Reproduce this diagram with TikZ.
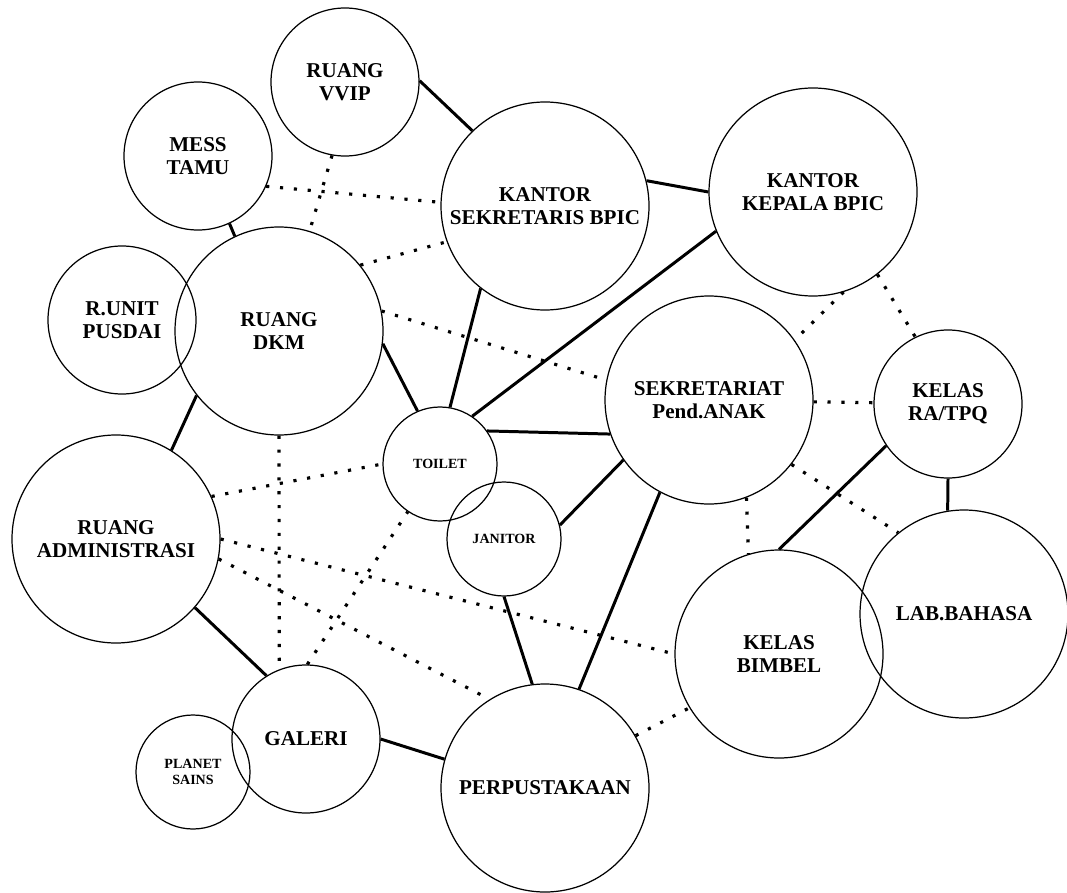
\documentclass[tikz,border=0pt]{standalone}
\usepackage{fontspec}
\setmainfont{Liberation Serif}

\tikzset{
  room/.style={circle,draw,line width=0.7pt,inner sep=0pt,align=center,
    font=\bfseries\fontsize{12}{13}\selectfont},
  big/.style={room,minimum size=41.6mm},
  mid/.style={room,minimum size=29.6mm},
  small/.style={room,minimum size=22.8mm,font=\bfseries\fontsize{8}{9}\selectfont},
  link/.style={line width=1.7pt},
  dotlink/.style={line width=1.8pt,dash pattern=on 1.8pt off 6.1pt},
}

\begin{document}
\begin{tikzpicture}[x=0.2mm,y=-0.2mm]
\useasboundingbox (0,0) rectangle (1067,892);

% rooms
\node[mid] (vvip) at (345,82) {RUANG\\VVIP};
\node[mid] (mess) at (198,156) {MESS\\TAMU};
\node[big] (ksek) at (545,206) {KANTOR\\SEKRETARIS BPIC};
\node[big] (kkep) at (813,192) {KANTOR\\KEPALA BPIC};
\node[mid] (pusdai) at (122,320) {R.UNIT\\PUSDAI};
\node[big] (dkm) at (279,331) {RUANG\\DKM};
\node[big] (sekr) at (709,400) {SEKRETARIAT\\Pend.ANAK};
\node[mid] (ratpq) at (948,404) {KELAS\\RA/TPQ};
\node[small] (toilet) at (440,464) {TOILET};
\node[small] (janitor) at (504,539) {JANITOR};
\node[big] (admin) at (116,539) {RUANG\\ADMINISTRASI};
\node[big] (lab) at (964,614) {LAB.BAHASA};
\node[big] (bimbel) at (779,654) {KELAS\\BIMBEL};
\node[mid] (galeri) at (306,739) {GALERI};
\node[small] (planet) at (193,772) {PLANET\\SAINS};
\node[big] (perpus) at (545,788) {PERPUSTAKAAN};

% close links
\draw[link] (vvip.1) -- (ksek.134);
\draw[link] (mess.-65) -- (dkm.115);
\draw[link] (ksek.14) -- (kkep.180);
\draw[link] (ksek.232) -- (toilet.80);
\draw[link] (kkep.202) -- (toilet.56);
\draw[link] (dkm.-7) -- (toilet.113);
\draw[link] (dkm.218) -- (admin.58);
\draw[link] (toilet.35) -- (sekr.199);
\draw[link] (janitor.14) -- (sekr.215);
\draw[link] (janitor.-90) -- (perpus.97);
\draw[link] (sekr.242) -- (perpus.71);
\draw[link] (admin.-41) -- (galeri.122);
\draw[link] (galeri.0) -- (perpus.164);
\draw[link] (ratpq.214) -- (bimbel.90);
\draw[link] (ratpq.270) -- (lab.99);

% loose links
\draw[dotlink] (mess.-24) -- (ksek.178);
\draw[dotlink] (vvip.-100) -- (dkm.73);
\draw[dotlink] (dkm.39) -- (ksek.200);
\draw[dotlink] (dkm.11) -- (sekr.169);
\draw[dotlink] (kkep.-73) -- (sekr.35);
\draw[dotlink] (kkep.-52) -- (ratpq.116);
\draw[dotlink] (sekr.-1) -- (ratpq.179);
\draw[dotlink] (sekr.-69) -- (bimbel.107);
\draw[dotlink] (sekr.-38) -- (lab.129);
\draw[dotlink] (admin.24) -- (toilet.180);
\draw[dotlink] (dkm.-90) -- (galeri.111);
\draw[dotlink] (admin.0) -- (bimbel.180);
\draw[dotlink] (admin.-11) -- (perpus.122);
\draw[dotlink] (galeri.89) -- (toilet.-124);
\draw[dotlink] (perpus.30) -- (bimbel.211);
\end{tikzpicture}
\end{document}
